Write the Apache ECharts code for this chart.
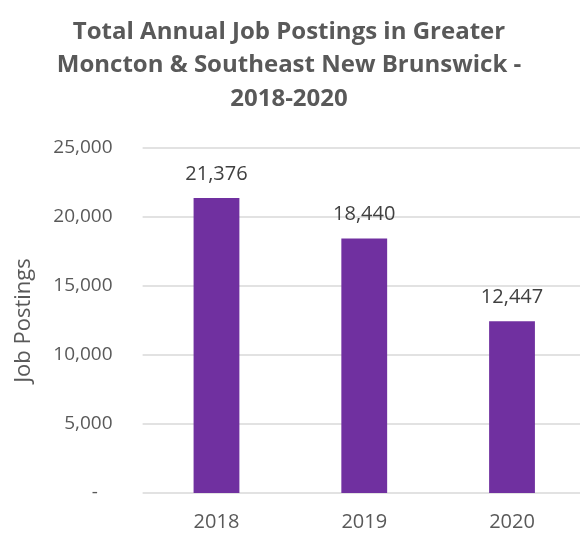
<!DOCTYPE html>
<html><head><meta charset="utf-8">
<script src="https://cdn.jsdelivr.net/npm/echarts@6/dist/echarts.min.js"></script>
<style>html,body{margin:0;padding:0;background:#fff;overflow:hidden}#c{width:600px;height:533px}</style>
</head><body><div id="c"></div>
<script>
const categories = ['2018', '2019', '2020'];
const postings = [21376, 18440, 12447];
const yTicks = [0, 5000, 10000, 15000, 20000, 25000];
const titleText = 'Total Annual Job Postings in Greater\nMoncton & Southeast New Brunswick -\n2018-2020';

const chart = echarts.init(document.getElementById('c'), null, {renderer: 'canvas'});
const fmt = v => v === 0 ? '-\u00a0\u00a0\u00a0' : v.toLocaleString('en-US');
chart.setOption({
  animation: false,
  title: {
    text: titleText, left: 284, top: 10, textAlign: 'center',
    textStyle: {fontFamily: 'Open Sans', fontWeight: 'bold', fontSize: 24, color: '#595959', lineHeight: 33.5}
  },
  grid: {left: 142.6, width: 443.3, top: 148, bottom: 40, containLabel: false},
  xAxis: {
    type: 'category', data: categories,
    axisLine: {show: false}, axisTick: {show: false},
    axisLabel: {fontFamily: 'Open Sans', fontSize: 20, color: '#595959', margin: 19}
  },
  yAxis: {
    type: 'value', min: yTicks[0], max: yTicks[yTicks.length - 1], interval: 5000,
    name: 'Job Postings', nameLocation: 'middle', nameGap: 108,
    nameTextStyle: {fontFamily: 'Open Sans', fontSize: 22, color: '#595959'},
    axisLine: {show: false}, axisTick: {show: false},
    axisLabel: {fontFamily: 'Open Sans', fontSize: 19, color: '#595959', margin: 30, formatter: fmt},
    splitLine: {lineStyle: {color: '#d9d9d9', width: 1.5}}
  },
  series: [{
    type: 'bar', data: postings, barWidth: '31%',
    itemStyle: {color: '#7030A0'},
    label: {show: true, position: 'top', distance: 14, fontFamily: 'Open Sans', fontSize: 20, color: '#404040',
      formatter: p => p.value.toLocaleString('en-US')}
  }]
});
</script></body></html>
